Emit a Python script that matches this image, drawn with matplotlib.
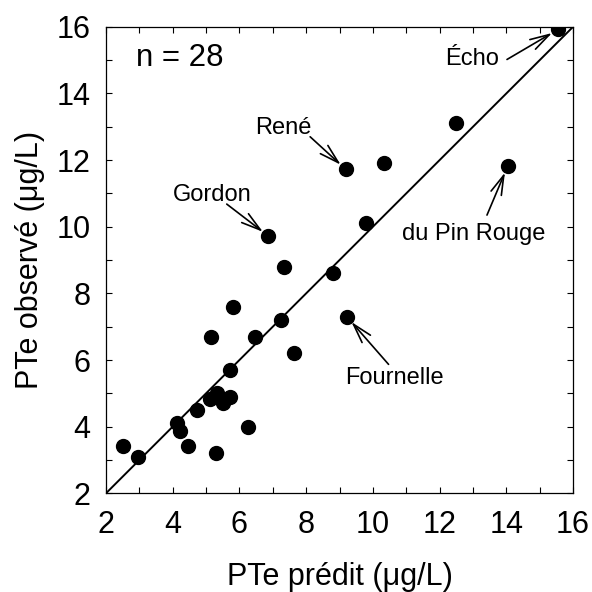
import matplotlib
matplotlib.use("Agg")
import matplotlib.pyplot as plt
from matplotlib.ticker import MultipleLocator

plt.rcParams["font.family"] = ["Liberation Sans", "DejaVu Sans"]

# --- Data -------------------------------------------------------------------
pred = [2.52, 2.95, 4.12, 4.22, 4.45, 4.72, 5.12, 5.32, 5.30, 5.52, 5.72, 5.15,
        5.72, 5.82, 6.25, 6.47, 7.24, 7.64, 7.35, 6.87, 8.79, 9.22, 9.80, 9.19,
        10.32, 12.49, 14.04, 15.55]
obs = [3.42, 3.10, 4.12, 3.88, 3.42, 4.50, 4.82, 5.00, 3.20, 4.70, 4.90, 6.70,
       5.70, 7.60, 4.00, 6.70, 7.20, 6.20, 8.80, 9.72, 8.60, 7.30, 10.10, 11.72,
       11.90, 13.12, 11.82, 15.92]

lake_names = ["Écho", "René", "Gordon", "du Pin Rouge", "Fournelle"]
lake_idx = [27, 23, 19, 26, 21]

# label placement (text centre, arrow tail) in data units
text_pos = [(12.97, 15.04), (7.32, 12.96), (5.2, 10.96), (13.03, 9.78), (10.64, 5.46)]
arrow_tail = [(14.02, 15.02), (8.12, 12.70), (5.62, 10.68), (13.42, 10.35), (10.47, 5.87)]

LIM = (2, 16)


def main():
    fig = plt.figure(figsize=(5.92, 5.92), dpi=100)
    ax = fig.add_axes([0.179, 0.1667, 0.789, 0.788])

    ax.plot(LIM, LIM, color="black", lw=1.4, zorder=1)
    ax.plot(pred, obs, "o", color="black", ms=10, zorder=3)

    for name, i, tp, tail in zip(lake_names, lake_idx, text_pos, arrow_tail):
        ax.text(tp[0], tp[1], name, fontsize=17, ha="center", va="center")
        ax.annotate("", xy=(pred[i], obs[i]), xytext=tail,
                    arrowprops=dict(arrowstyle="->,head_length=1.4,head_width=0.4",
                                    color="black", lw=1.2, mutation_scale=10,
                                    shrinkA=0, shrinkB=5))

    ax.text(2.9, 15.07, f"n = {len(pred)}", fontsize=22.5, ha="left", va="center")

    ax.set_xlim(LIM)
    ax.set_ylim(LIM)
    ax.xaxis.set_major_locator(MultipleLocator(2))
    ax.yaxis.set_major_locator(MultipleLocator(2))
    ax.xaxis.set_minor_locator(MultipleLocator(1))
    ax.yaxis.set_minor_locator(MultipleLocator(1))
    ax.tick_params(which="both", direction="in", top=True, right=True,
                   length=4.5, width=0.8, labelsize=22)
    ax.tick_params(axis="x", pad=12)
    ax.tick_params(axis="y", pad=11)
    for s in ax.spines.values():
        s.set_linewidth(0.9)

    ax.set_xlabel("PTe prédit (μg/L)", fontsize=22, labelpad=16)
    ax.set_ylabel("PTe observé (μg/L)", fontsize=22, labelpad=8)

    fig.savefig("out.png", dpi=100)


if __name__ == "__main__":
    main()
